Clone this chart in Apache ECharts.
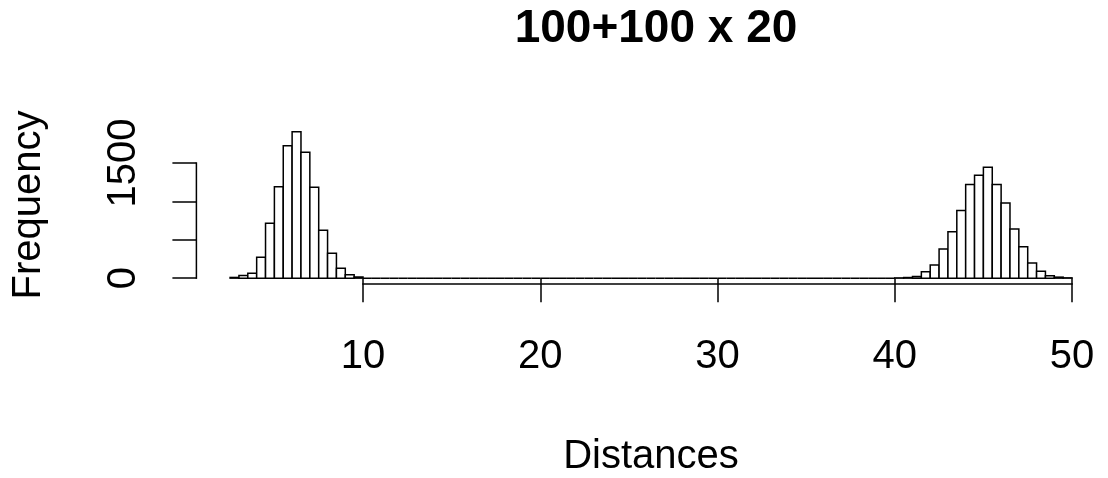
<!DOCTYPE html>
<html>
<head>
<meta charset="utf-8">
<script src="https://cdn.jsdelivr.net/npm/echarts@6/dist/echarts.min.js"></script>
<style>html,body{margin:0;padding:0;background:#fff}#c{width:1108px;height:478px}</style>
</head>
<body>
<div id="c"></div>
<script>
// Histogram data: bins of width 0.5 starting at 2.5
const binStart = 2.5;
const binWidth = 0.5;
const leftCounts = [9, 34, 65, 272, 716, 1190, 1724, 1909, 1642, 1185, 625, 323, 129, 43, 15]; // 2.5 .. 10
const middleCounts = new Array(60).fill(0); // 10 .. 40 (empty bins)
const rightCounts = [3, 8, 20, 82, 172, 379, 603, 883, 1220, 1340, 1444, 1220, 978, 642, 409, 198, 90, 30, 13, 4]; // 40 .. 50
const counts = leftCounts.concat(middleCounts, rightCounts);

const xTicks = [10, 20, 30, 40, 50];
const yTicks = [0, 500, 1000, 1500];
const yTickLabels = [0, 1500];

const titleText = '100+100 x 20';
const xName = 'Distances';
const yName = 'Frequency';

const bins = counts.map((c, i) => [binStart + i * binWidth, binStart + (i + 1) * binWidth, c]);
const xLo = binStart, xHi = binStart + counts.length * binWidth;
const xPad = 0.04 * (xHi - xLo);
const yMaxData = Math.max(...counts);
const yPad = 0.04 * yMaxData;

const FONT = 'Liberation Sans, Arial, Helvetica, sans-serif';
const LW = 1.5;
const chart = echarts.init(document.getElementById('c'), null, {renderer: 'canvas'});
chart.setOption({
  animation: false,
  backgroundColor: '#fff',
  title: {
    text: titleText, left: 651, top: 1, textAlign: 'center',
    textStyle: {fontFamily: FONT, fontSize: 46, fontWeight: 'bold', color: '#000'}
  },
  grid: {left: 196.4, right: 2.3, top: 125.8, bottom: 192.8, containLabel: false},
  xAxis: {
    type: 'value', min: xLo - xPad, max: xHi + xPad,
    name: xName, nameLocation: 'middle', nameGap: 153,
    nameTextStyle: {fontFamily: FONT, fontSize: 40, color: '#000'},
    axisLine: {show: false},
    splitLine: {show: false},
    axisTick: {show: true, customValues: xTicks, length: 24, lineStyle: {color: '#000', width: LW}},
    axisLabel: {customValues: xTicks, margin: 53, fontFamily: FONT, fontSize: 40, color: '#000',
      formatter: v => String(v)}
  },
  yAxis: {
    type: 'value', min: -yPad, max: yMaxData + yPad,
    name: yName, nameLocation: 'middle', nameGap: 147, nameRotate: 90,
    nameTextStyle: {fontFamily: FONT, fontSize: 40, color: '#000'},
    axisLine: {show: false},
    splitLine: {show: false},
    axisTick: {show: true, customValues: yTicks, length: 24, lineStyle: {color: '#000', width: LW}},
    axisLabel: {customValues: yTickLabels, rotate: 90, margin: 52, fontFamily: FONT, fontSize: 40, color: '#000',
      formatter: v => String(v)}
  },
  series: [
    {
      type: 'custom',
      data: bins,
      renderItem: function (params, api) {
        const x0 = api.value(0), x1 = api.value(1), c = api.value(2);
        const p0 = api.coord([x0, 0]);
        const p1 = api.coord([x1, c]);
        return {
          type: 'rect',
          shape: {x: p0[0], y: p1[1], width: p1[0] - p0[0], height: p0[1] - p1[1]},
          style: {fill: '#fff', stroke: '#000', lineWidth: LW}
        };
      }
    },
    {
      type: 'custom',
      data: [[0]],
      silent: true,
      renderItem: function (params, api) {
        const xMin = xLo - xPad, yMin = -yPad;
        const a = api.coord([xTicks[0], yMin]);
        const b = api.coord([xTicks[xTicks.length - 1], yMin]);
        const c = api.coord([xMin, yTicks[0]]);
        const d = api.coord([xMin, yTicks[yTicks.length - 1]]);
        return {
          type: 'group',
          children: [
            {type: 'line', shape: {x1: a[0], y1: a[1], x2: b[0], y2: b[1]}, style: {stroke: '#000', lineWidth: LW, lineCap: 'square'}},
            {type: 'line', shape: {x1: c[0], y1: c[1], x2: d[0], y2: d[1]}, style: {stroke: '#000', lineWidth: LW, lineCap: 'square'}}
          ]
        };
      }
    }
  ]
});
</script>
</body>
</html>
